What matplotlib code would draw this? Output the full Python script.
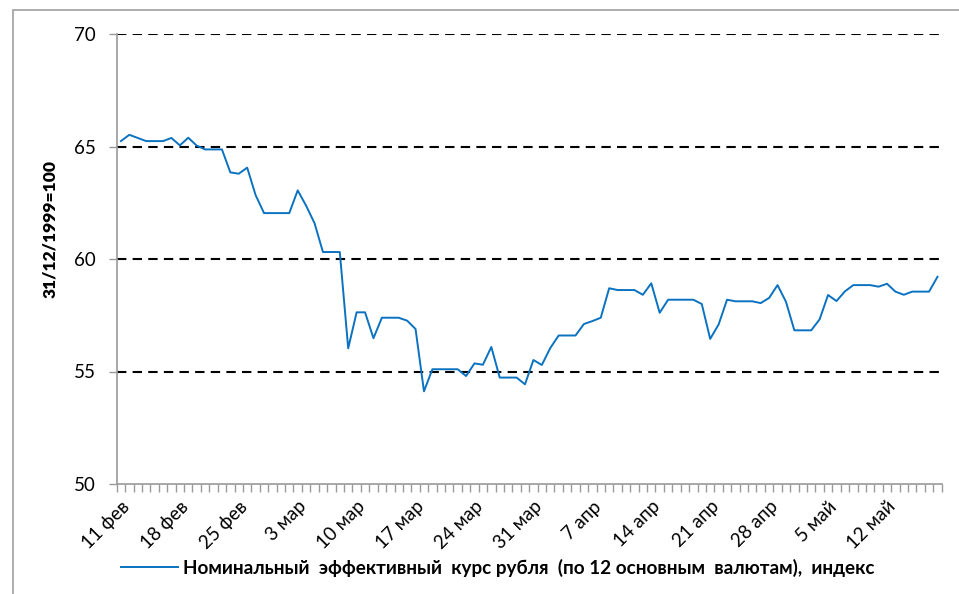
import pandas as pd
import matplotlib
matplotlib.use('Agg')
from matplotlib import pyplot as plt
from matplotlib.lines import Line2D
from matplotlib.patches import Rectangle
from matplotlib.ticker import FixedLocator

plt.rcParams['font.family'] = ['Lato', 'DejaVu Sans']

start_date = '2020-02-11'
month_names = {2: 'фев', 3: 'мар', 4: 'апр', 5: 'май'}
series_label = 'Номинальный  эффективный  курс рубля  (по 12 основным  валютам),  индекс'
y_label = '31/12/1999=100'

# daily values, 11 Feb .. 18 May
neer = [
    65.24, 65.52, 65.38, 65.24, 65.24, 65.24, 65.38, 65.05, 65.39, 65.04,
    64.87, 64.87, 64.87, 63.85, 63.79, 64.06, 62.84, 62.04, 62.04, 62.04,
    62.04, 63.05, 62.37, 61.59, 60.31, 60.31, 60.31, 56.03, 57.63, 57.63,
    56.48, 57.39, 57.39, 57.39, 57.26, 56.89, 54.12, 55.10, 55.10, 55.10,
    55.10, 54.80, 55.36, 55.30, 56.09, 54.73, 54.73, 54.73, 54.43, 55.51,
    55.29, 56.04, 56.60, 56.60, 56.60, 57.11, 57.24, 57.39, 58.70, 58.62,
    58.62, 58.62, 58.41, 58.92, 57.61, 58.19, 58.19, 58.19, 58.19, 58.00,
    56.45, 57.09, 58.19, 58.12, 58.12, 58.12, 58.04, 58.27, 58.84, 58.10,
    56.83, 56.83, 56.83, 57.32, 58.40, 58.13, 58.56, 58.84, 58.84, 58.84,
    58.77, 58.90, 58.55, 58.41, 58.55, 58.55, 58.55, 59.21,
]
y_ticks = [50, 55, 60, 65, 70]

dates = pd.date_range(start_date, periods=len(neer))
x = list(range(len(neer)))
week_pos = x[::7]
week_labels = [f'{dates[i].day} {month_names[dates[i].month]}' for i in week_pos]

fig = plt.figure(figsize=(9.59, 5.94), dpi=100)
ax = fig.add_axes([116.7 / 959, 1 - 484 / 594, 825 / 959, 450 / 594])

# chart-area border (left and top edges visible)
fig.patches.append(Rectangle((13 / 959, -0.1), 2, 1 - 10 / 594 + 0.1,
                             transform=fig.transFigure, fill=False,
                             edgecolor='#a0a0a0', linewidth=1.2))

ax.plot(x, neer, color='#0A72C0', linewidth=1.4)

ax.set_xlim(-0.5, len(neer) - 0.5)
ax.set_ylim(50, 70)
ax.set_yticks(y_ticks)
for v in y_ticks[1:]:
    ax.axhline(v, color='black', linestyle=(0, (4.5, 3)), linewidth=1.5, zorder=0)

ax.set_xticks(week_pos)
ax.set_xticklabels(week_labels, rotation=45, ha='right', rotation_mode='anchor')
ax.xaxis.set_minor_locator(FixedLocator([i - 0.5 for i in range(len(neer) + 1)]))
ax.tick_params(axis='x', which='major', length=0, pad=10, labelsize=13.5)
ax.tick_params(axis='x', which='minor', length=6, width=1, color='#9a9a9a', direction='out')
ax.tick_params(axis='y', length=6, width=1, color='#9a9a9a', labelsize=13.5, pad=9)

for side in ['top', 'right']:
    ax.spines[side].set_visible(False)
for side in ['left', 'bottom']:
    ax.spines[side].set_color('#9a9a9a')
    ax.spines[side].set_linewidth(1.2)

fig.text(50 / 959, 1 - 229 / 594, y_label, rotation=90, ha='center', va='center',
         fontsize=12.5, fontweight='heavy')

handle = Line2D([], [], color='#0A72C0', linewidth=1.4)
fig.legend([handle], [series_label], loc='center',
           bbox_to_anchor=(498 / 959, 1 - 568 / 594), frameon=False,
           handlelength=3.0, handletextpad=0.3,
           prop={'size': 13.6, 'weight': 'bold'})

fig.savefig('out.png', dpi=100)
